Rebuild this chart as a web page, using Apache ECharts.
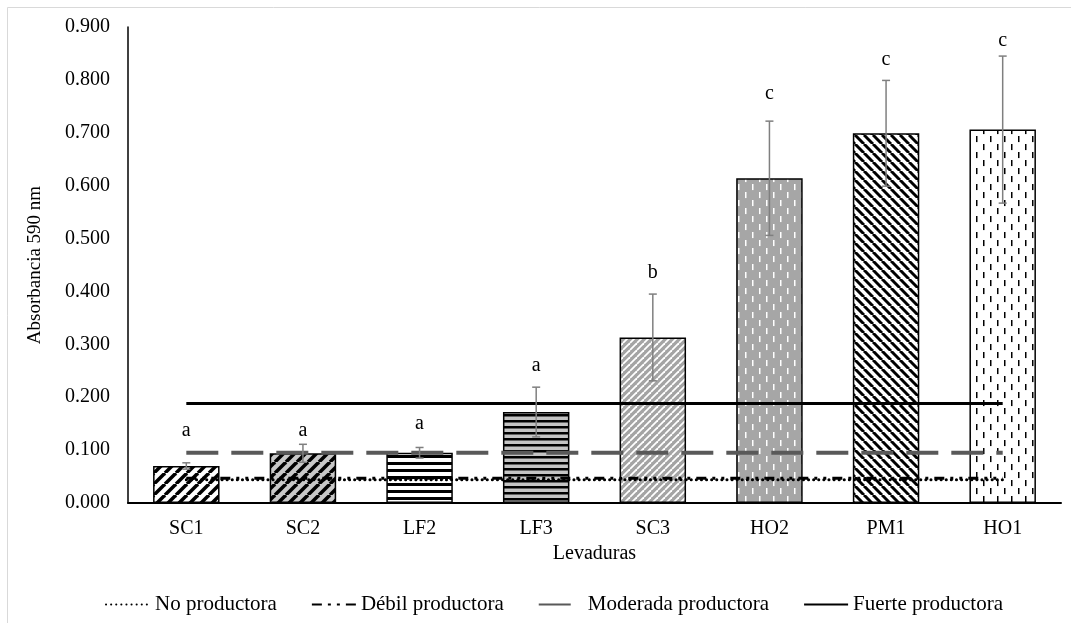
<!DOCTYPE html>
<html>
<head>
<meta charset="utf-8">
<script src="https://cdn.jsdelivr.net/npm/echarts@6/dist/echarts.min.js"></script>
<style>
  html, body { margin: 0; padding: 0; background: #fff; }
  #chart { width: 1071px; height: 623px; }
</style>
</head>
<body>
<div id="chart"></div>
<script>
// ---- Data ----
var categories = ['SC1', 'SC2', 'LF2', 'LF3', 'SC3', 'HO2', 'PM1', 'HO1'];
var absorbance = [0.070, 0.094, 0.095, 0.172, 0.313, 0.614, 0.699, 0.706];
var errors = [0.006, 0.017, 0.010, 0.047, 0.082, 0.108, 0.100, 0.139];
var letters = ['a', 'a', 'a', 'a', 'b', 'c', 'c', 'c'];
var letterHeights = [0.137, 0.137, 0.150, 0.260, 0.436, 0.774, 0.838, 0.874];
var thresholdNames = ['No productora', 'Débil productora', 'Moderada productora', 'Fuerte productora'];
var thresholdValues = [0.044, 0.047, 0.095, 0.188];
var yTicks = { min: 0, max: 0.9, interval: 0.1 };

// ---- Patterns (style only) ----
function makeCanvas(w, h, bg) {
  var c = document.createElement('canvas');
  c.width = w; c.height = h;
  var ctx = c.getContext('2d');
  ctx.fillStyle = bg; ctx.fillRect(0, 0, w, h);
  return { c: c, ctx: ctx };
}
function diag(bg, fg, s, lw, dir) {
  var o = makeCanvas(s, s, bg), ctx = o.ctx;
  ctx.strokeStyle = fg; ctx.lineWidth = lw;
  for (var k = -1; k <= 1; k++) {
    ctx.beginPath();
    if (dir === '/') { ctx.moveTo(k * s, s); ctx.lineTo(k * s + s, 0); }
    else { ctx.moveTo(k * s, 0); ctx.lineTo(k * s + s, s); }
    ctx.stroke();
  }
  return { image: o.c, repeat: 'repeat' };
}
function horiz(bg, fg, p, lw) {
  var o = makeCanvas(8, p, bg), ctx = o.ctx;
  ctx.fillStyle = fg; ctx.fillRect(0, 0, 8, lw);
  return { image: o.c, repeat: 'repeat' };
}
function vdash(bg, fg, w, h, lw) {
  var o = makeCanvas(w, h, bg), ctx = o.ctx;
  ctx.fillStyle = fg;
  ctx.fillRect(Math.round(w * 0.2), 0, lw, h * 0.38);
  ctx.fillRect(Math.round(w * 0.7), h * 0.5, lw, h * 0.38);
  return { image: o.c, repeat: 'repeat' };
}
var patterns = [
  diag('#ffffff', '#000000', 11, 3.5, '/'),
  diag('#c8c8c8', '#000000', 11, 3.5, '/'),
  horiz('#ffffff', '#000000', 7, 3),
  horiz('#c4c4c4', '#000000', 6, 2.5),
  diag('#a4a4a4', '#ffffff', 7, 1.8, '/'),
  vdash('#a6a6a6', '#ffffff', 14, 16, 1.5),
  diag('#ffffff', '#000000', 9, 3, '\\'),
  vdash('#ffffff', '#000000', 14, 16, 1.5)
];

var lineStyles = [
  { color: '#000000', width: 3, type: [0.1, 5], cap: 'round' },
  { color: '#000000', width: 3, type: [10, 6, 3, 6, 3, 6] },
  { color: '#595959', width: 4, type: [32, 13] },
  { color: '#000000', width: 3, type: 'solid' }
];

var FONT = '"Liberation Serif", "Times New Roman", serif';

var series = [{
  type: 'bar',
  barWidth: '57%',
  z: 2,
  data: absorbance.map(function (v, i) {
    return { value: v, itemStyle: { color: patterns[i], borderColor: '#000', borderWidth: 1.5 } };
  })
}];

thresholdNames.forEach(function (name, k) {
  series.push({
    name: name,
    type: 'line',
    symbol: 'none',
    z: 3,
    lineStyle: lineStyles[k],
    itemStyle: { color: lineStyles[k].color },
    data: categories.map(function () { return thresholdValues[k]; })
  });
});

series.push({
  type: 'custom',
  z: 4,
  renderItem: function (params, api) {
    var x = api.value(0), v = api.value(1), e = api.value(2);
    var hi = api.coord([x, v + e]), lo = api.coord([x, v - e]);
    var cw = 4;
    var st = { stroke: '#7f7f7f', lineWidth: 1.5 };
    return {
      type: 'group',
      children: [
        { type: 'line', shape: { x1: hi[0], y1: hi[1], x2: lo[0], y2: lo[1] }, style: st },
        { type: 'line', shape: { x1: hi[0] - cw, y1: hi[1], x2: hi[0] + cw, y2: hi[1] }, style: st },
        { type: 'line', shape: { x1: lo[0] - cw, y1: lo[1], x2: lo[0] + cw, y2: lo[1] }, style: st }
      ]
    };
  },
  data: absorbance.map(function (v, i) { return [i, v, errors[i]]; })
});

series.push({
  type: 'custom',
  z: 5,
  renderItem: function (params, api) {
    var p = api.coord([api.value(0), api.value(1)]);
    return {
      type: 'text',
      x: p[0], y: p[1],
      style: {
        text: letters[params.dataIndex],
        align: 'center', verticalAlign: 'middle',
        font: '20px ' + FONT, fill: '#000'
      }
    };
  },
  data: letterHeights.map(function (h, i) { return [i, h]; })
});

var chart = echarts.init(document.getElementById('chart'), null, { renderer: 'canvas' });
chart.setOption({
  animation: false,
  backgroundColor: '#fff',
  textStyle: { fontFamily: FONT },
  graphic: [{
    type: 'rect', silent: true,
    shape: { x: 7.5, y: 7.5, width: 1200, height: 800 },
    style: { fill: 'none', stroke: '#d9d9d9', lineWidth: 1 }
  }],
  grid: { left: 128, right: 10, top: 27, bottom: 120 },
  legend: {
    data: thresholdNames,
    top: 589,
    left: 100,
    itemWidth: 44,
    itemHeight: 12,
    itemGap: 34,
    itemStyle: { opacity: 0 },
    textStyle: { fontFamily: FONT, fontSize: 21, color: '#000' }
  },
  xAxis: {
    type: 'category',
    data: categories,
    name: 'Levaduras',
    nameLocation: 'middle',
    nameGap: 38,
    nameTextStyle: { fontFamily: FONT, fontSize: 20, color: '#000' },
    axisLine: { lineStyle: { color: '#000', width: 2 } },
    axisTick: { show: false },
    axisLabel: { fontFamily: FONT, fontSize: 20, color: '#000', margin: 16 }
  },
  yAxis: {
    type: 'value',
    min: yTicks.min, max: yTicks.max, interval: yTicks.interval,
    name: 'Absorbancia 590 nm',
    nameLocation: 'middle',
    nameGap: 83,
    nameTextStyle: { fontFamily: FONT, fontSize: 19, color: '#000' },
    axisLine: { show: true, lineStyle: { color: '#000', width: 1.5 } },
    axisTick: { show: false },
    splitLine: { show: false },
    axisLabel: {
      fontFamily: FONT, fontSize: 20, color: '#000', margin: 18,
      formatter: function (v) { return v.toFixed(3); }
    }
  },
  series: series
});
</script>
</body>
</html>
